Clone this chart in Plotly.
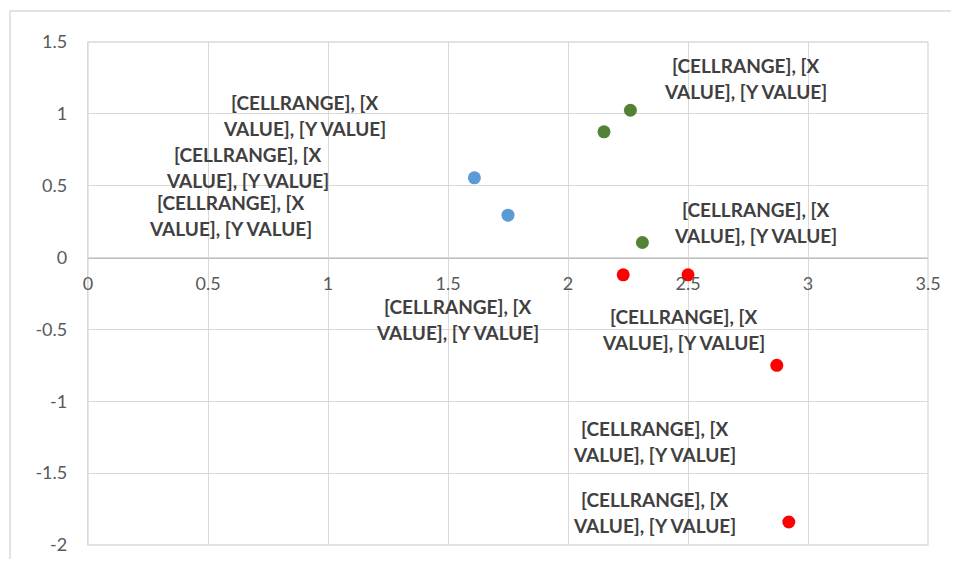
import plotly.graph_objects as go

# Data
blue_x = [1.61, 1.75]
blue_y = [0.555, 0.295]
green_x = [2.15, 2.26, 2.31]
green_y = [0.875, 1.025, 0.105]
red_x = [2.23, 2.50, 2.87, 2.92]
red_y = [-0.12, -0.12, -0.75, -1.84]

label_line1 = "[CELLRANGE], [X"
label_line2 = "VALUE], [Y VALUE]"

x_ticks = [0, 0.5, 1, 1.5, 2, 2.5, 3, 3.5]
y_ticks = [-2, -1.5, -1, -0.5, 0, 0.5, 1, 1.5]

# label pixel offsets (dx, dy up) for each point
label_offsets = {
    "blue": [(-227, 10), (-278, 0)],
    "green": [(-300, 16), (115, 32), (113, 20)],
    "red": [(-166, -45), (-5, -55), (-122, -76), (-134, 10)],
}

# page body has an 8px margin; compensate so the figure lands at the same spot
W, H = 943, 551
ML, MR, MT, MB = 80, 23, 34, 14
PW, PH = W - ML - MR, H - MT - MB

fig = go.Figure()
series = [
    ("blue", blue_x, blue_y, "#5B9BD5"),
    ("green", green_x, green_y, "#548235"),
    ("red", red_x, red_y, "#FF0000"),
]
annotations = []
lab_font = dict(family="Lato, Carlito, sans-serif", size=19, color="#404040")
for name, xs, ys, col in series:
    fig.add_trace(go.Scatter(x=xs, y=ys, mode="markers", name=name,
                             marker=dict(size=13, color=col), showlegend=False,
                             hoverinfo="skip"))
    for (xv, yv), (dx, dy) in zip(zip(xs, ys), label_offsets[name]):
        for txt, off in ((label_line1, 13), (label_line2, -13)):
            annotations.append(dict(x=xv, y=yv, xref="x", yref="y", text="<b>" + txt + "</b>",
                                    showarrow=False, xshift=dx, yshift=dy + off,
                                    font=lab_font, xanchor="center", yanchor="middle"))

bx0 = -(ML - 2) / PW
by1 = 1 + (MT - 3) / PH
fig.update_layout(
    width=W, height=H,
    margin=dict(l=ML, r=MR, t=MT, b=MB, autoexpand=False),
    paper_bgcolor="white", plot_bgcolor="white",
    annotations=annotations,
    shapes=[
        dict(type="line", xref="paper", yref="paper", x0=bx0, x1=1.5, y0=by1, y1=by1,
             line=dict(color="#D9D9D9", width=1.5), layer="below"),
        dict(type="line", xref="paper", yref="paper", x0=bx0, x1=bx0, y0=-0.5, y1=by1,
             line=dict(color="#D9D9D9", width=1.5), layer="below"),
        dict(type="rect", xref="paper", yref="paper", x0=0, x1=1, y0=0, y1=1,
             line=dict(color="#D9D9D9", width=1.3), layer="below"),
    ],
    font=dict(family="Lato, Carlito, sans-serif", size=18, color="#595959"),
)
fig.update_xaxes(range=[0, 3.5], tickvals=x_ticks, ticktext=[f"{v:g}" for v in x_ticks],
                 showgrid=True, gridcolor="#D9D9D9", gridwidth=1.3,
                 zeroline=False, showline=True, linecolor="#BFBFBF", linewidth=1.3,
                 anchor="free", position=4/7, ticks="", ticklabelstandoff=10,
                 mirror=False, fixedrange=True, automargin=False)
fig.update_yaxes(range=[-2, 1.5], tickvals=y_ticks, ticktext=[f"{v:g}" for v in y_ticks],
                 showgrid=True, gridcolor="#D9D9D9", gridwidth=1.3,
                 zeroline=False, showline=True, linecolor="#D9D9D9", linewidth=1.3,
                 ticks="", ticklabelstandoff=16, fixedrange=True, automargin=False)

fig.write_html("out.html")
